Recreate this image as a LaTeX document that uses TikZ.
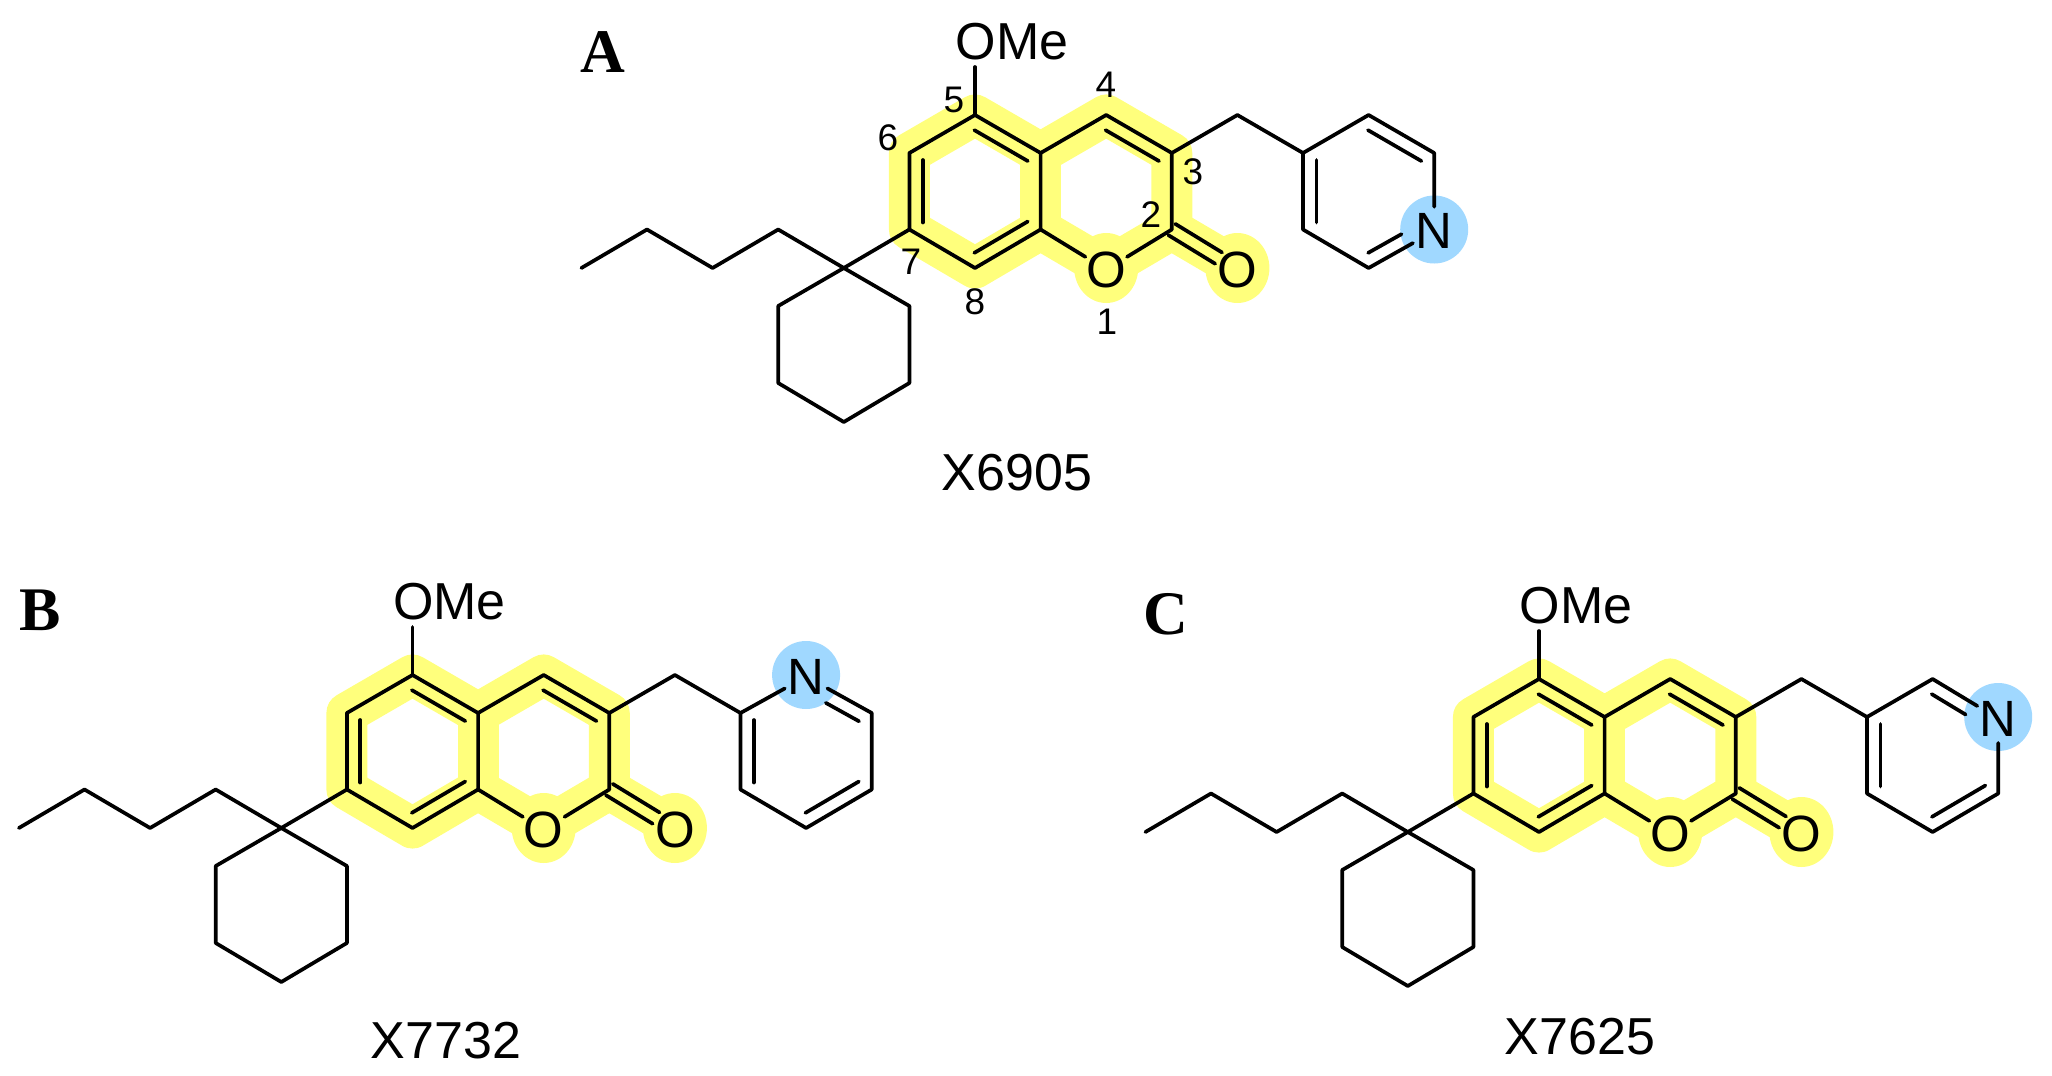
\documentclass[tikz,border=0pt]{standalone}
\usepackage{fontspec}
\setmainfont{Liberation Sans}
\newfontfamily\panelfont{Liberation Serif}
\usetikzlibrary{calc, shapes.geometric}

\definecolor{hiliteyellow}{HTML}{FFFF7C}
\definecolor{spotblue}{HTML}{A0D8FF}

\tikzset{
    bond/.style={draw=black, line width=1.85pt, line cap=round, line join=round},
    hilite/.style={draw=hiliteyellow, line width=20.5pt, line cap=round, line join=round},
    yellowspot/.style={ellipse, fill=hiliteyellow, minimum width=32pt, minimum height=35pt, inner sep=0pt},
    bluespot/.style={circle, fill=spotblue, minimum size=34pt, inner sep=0pt},
    atomlabel/.style={circle, minimum size=24pt, inner sep=-3pt, yshift=-0.8pt, font=\fontsize{25.5}{30}\selectfont},
    textlabel/.style={inner sep=0pt, font=\fontsize{26}{30}\selectfont},
    numlabel/.style={inner sep=0pt, font=\fontsize{18.5}{22}\selectfont},
    panellabel/.style={inner sep=0pt, font=\panelfont\bfseries\fontsize{31}{36}\selectfont}
}

% inner line of a double bond, on the left going from #2 to #3
\newcommand{\inbond}[3][]{\draw[bond, shorten <=3.5pt, shorten >=3.5pt, #1] ($(#2)!6.7pt!90:(#3)$) -- ($(#3)!6.7pt!-90:(#2)$);}

% everything the three molecules share, origin on C5
\newcommand{\coreMol}{
    \coordinate (c5) at (0,0);
    \coordinate (c6) at (-65.6,38);
    \coordinate (c7) at (-65.6,114.5);
    \coordinate (c8) at (0,153);
    \coordinate (c8a) at (65.6,114.5);
    \coordinate (c4a) at (65.6,38);
    \coordinate (c4) at (131.2,0);
    \coordinate (c3) at (196.8,38);
    \coordinate (c2) at (196.8,114.5);
    \coordinate (cq) at (-131.2,153);
    \coordinate (ch2) at (262.4,0);
    \coordinate (omeEnd) at (0,-48);

    \coordinate (b1) at (-196.8,114.5);
    \coordinate (b2) at (-262.4,153);
    \coordinate (b3) at (-328,114.5);
    \coordinate (b4) at (-393.6,153);

    \coordinate (r1) at (-196.8,191);
    \coordinate (r2) at (-196.8,268);
    \coordinate (r3) at (-131.2,307);
    \coordinate (r4) at (-65.6,268);
    \coordinate (r5) at (-65.6,191);

    \coordinate (p1) at (328,38);
    \coordinate (p2) at (328,114.5);
    \coordinate (p3) at (393.6,153);
    \coordinate (p4) at (459.2,114.5);
    \coordinate (p5) at (459.2,38);
    \coordinate (p6) at (393.6,0);

    % highlight goes under the bonds
    \draw[hilite] (c5) -- (c6) -- (c7) -- (c8) -- (c8a) -- (131.2,153) -- (c2) -- (c3) -- (c4) -- (c4a) -- cycle;
    \draw[hilite] (c4a) -- (c8a);
    \draw[hilite] (c2) -- (262.4,153);
    \node[yellowspot] (o1spot) at (131.2,153) {};
    \node[yellowspot] (oxspot) at (262.4,153) {};

    \node[atomlabel] (o1) at (131.2,153) {O};
    \node[atomlabel] (ox) at (262.4,153) {O};
    \node[textlabel] (ome) at (37,-73) {OMe};

    \draw[bond] (omeEnd) -- (c5);
    \draw[bond] (c5) -- (c6) -- (c7) -- (c8) -- (c8a) -- (c4a) -- cycle;
    \draw[bond] (c8a) -- (o1) -- (c2) -- (c3) -- (c4) -- (c4a);
    \inbond{c6}{c7}
    \inbond{c8}{c8a}
    \inbond{c4a}{c5}
    \inbond{c3}{c4}

    % carbonyl
    \draw[bond, shorten >=11pt] ($(c2)!3.3pt!90:(ox)$) -- ($(ox)!3.3pt!-90:(c2)$);
    \draw[bond, shorten >=11pt] ($(c2)!3.3pt!-90:(ox)$) -- ($(ox)!3.3pt!90:(c2)$);

    \draw[bond] (c7) -- (cq) -- (b1) -- (b2) -- (b3) -- (b4);
    \draw[bond] (cq) -- (r1) -- (r2) -- (r3) -- (r4) -- (r5) -- cycle;
    \draw[bond] (c3) -- (ch2) -- (p1);
}

\begin{document}
\begin{tikzpicture}[x=0.5pt, y=-0.5pt]
    \useasboundingbox (0,0) rectangle (2052,1076);

    \node[panellabel] (panelA) at (603,52) {A};
    \node[panellabel] (panelB) at (40,610) {B};
    \node[panellabel] (panelC) at (1166,614) {C};

    \node[textlabel] (nameA) at (1017,473) {X6905};
    \node[textlabel] (nameB) at (446,1041) {X7732};
    \node[textlabel] (nameC) at (1580,1037) {X7625};

    \begin{scope}[shift={(975,115)}, name prefix=A-]
        \coreMol
        \node[bluespot] (nspot) at (p4) {};
        \node[atomlabel] (n) at (p4) {N};
        \draw[bond] (n) -- (p3) -- (p2) -- (p1) -- (p6) -- (p5) -- (n);
        \inbond{p1}{p2}
        \inbond[shorten >=15pt]{p3}{n}
        \inbond{p5}{p6}

        \node[numlabel] (num1) at (132,207) {1};
        \node[numlabel] (num2) at (176,100) {2};
        \node[numlabel] (num3) at (218,57) {3};
        \node[numlabel] (num4) at (131,-30) {4};
        \node[numlabel] (num5) at (-21,-15) {5};
        \node[numlabel] (num6) at (-87,23) {6};
        \node[numlabel] (num7) at (-64,147) {7};
        \node[numlabel] (num8) at (0,187) {8};
    \end{scope}

    \begin{scope}[shift={(412.5,675)}, name prefix=B-]
        \coreMol
        \node[bluespot] (nspot) at (p6) {};
        \node[atomlabel] (n) at (p6) {N};
        \draw[bond] (n) -- (p1) -- (p2) -- (p3) -- (p4) -- (p5) -- (n);
        \inbond{p1}{p2}
        \inbond{p3}{p4}
        \inbond[shorten >=15pt]{p5}{n}
    \end{scope}

    \begin{scope}[shift={(1539,679)}, name prefix=C-]
        \coreMol
        \node[bluespot] (nspot) at (p5) {};
        \node[atomlabel] (n) at (p5) {N};
        \draw[bond] (n) -- (p6) -- (p1) -- (p2) -- (p3) -- (p4) -- (n);
        \inbond{p1}{p2}
        \inbond{p3}{p4}
        \inbond[shorten <=15pt]{n}{p6}
    \end{scope}
\end{tikzpicture}
\end{document}
